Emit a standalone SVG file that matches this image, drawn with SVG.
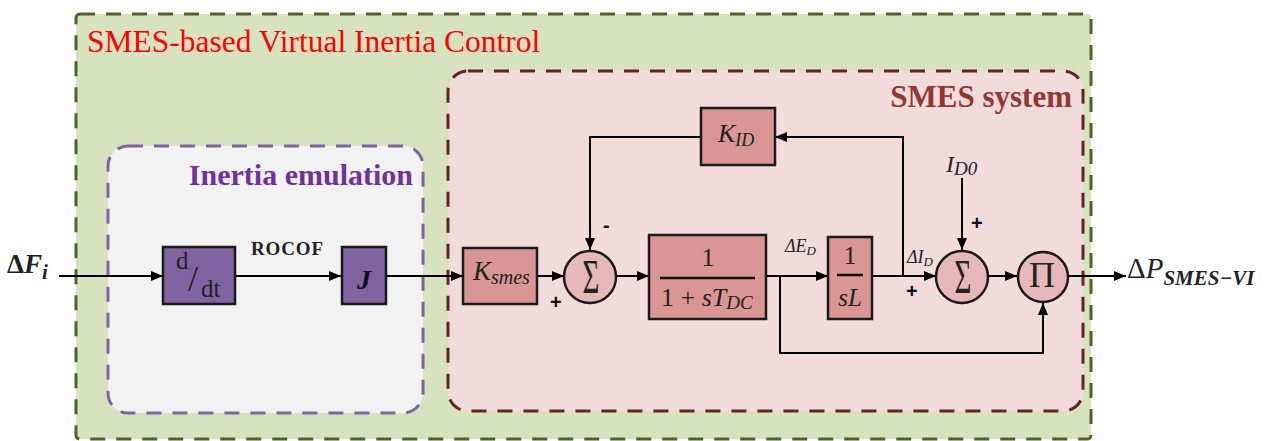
<svg xmlns="http://www.w3.org/2000/svg" width="1266" height="441" viewBox="0 0 1266 441">
<defs>
<style>
.blk{fill:#d99694;stroke:#1a1a1a;stroke-width:2.5}
.pblk{fill:#8064a2;stroke:#1a1a1a;stroke-width:2.5}
.circ{fill:#e6b9b8;stroke:#1a1a1a;stroke-width:2.5}
.ln{fill:none;stroke:#000;stroke-width:2}
.m{font-family:"Liberation Serif",serif;font-style:italic;fill:#222}
.r{font-family:"Liberation Serif",serif;fill:#222}
.sign{font-family:"Liberation Sans",sans-serif;font-weight:bold;font-size:20px;fill:#111}
</style>
<marker id="ah" viewBox="0 0 12 10" refX="12" refY="5" markerWidth="12" markerHeight="10" markerUnits="userSpaceOnUse" orient="auto">
<path d="M0,0 L12,5 L0,10 z" fill="#000"/>
</marker>
</defs>
<rect width="1266" height="441" fill="#fff"/>

<g id="outer">
<rect x="76" y="14" width="1015" height="425" rx="4" fill="#d7e3bf" stroke="#4f6228" stroke-width="3" stroke-dasharray="15,11"/>
<text x="87" y="52" font-family="Liberation Serif,serif" font-size="31.5" fill="#ff0000">SMES-based Virtual Inertia Control</text>
</g>
<g id="inertia-emulation">
<rect x="108" y="146" width="315" height="267" rx="20" fill="#f2f2f2" stroke="#8064a2" stroke-width="3" stroke-dasharray="15,11"/>
<text x="413" y="185" text-anchor="end" font-family="Liberation Serif,serif" font-weight="bold" font-size="30" fill="#7030a0">Inertia emulation</text>
</g>
<g id="smes-system">
<rect x="448" y="71" width="635" height="340" rx="20" fill="#f2dcdb" stroke="#632523" stroke-width="3" stroke-dasharray="15,11"/>
<text x="1072" y="107" text-anchor="end" font-family="Liberation Serif,serif" font-weight="bold" font-size="31" fill="#943634">SMES system</text>
</g>

<g id="connectors">
<line class="ln" x1="59" y1="276" x2="163" y2="276" marker-end="url(#ah)"/>
<line class="ln" x1="235" y1="276" x2="341" y2="276" marker-end="url(#ah)"/>
<line class="ln" x1="386" y1="276" x2="463" y2="276" marker-end="url(#ah)"/>
<line class="ln" x1="537" y1="276" x2="564" y2="276" marker-end="url(#ah)"/>
<line class="ln" x1="616" y1="276" x2="649" y2="276" marker-end="url(#ah)"/>
<line class="ln" x1="766" y1="276" x2="828" y2="276" marker-end="url(#ah)"/>
<line class="ln" x1="872" y1="276" x2="936" y2="276" marker-end="url(#ah)"/>
<polyline class="ln" points="903,276 903,137 775,137" marker-end="url(#ah)"/>
<polyline class="ln" points="701,137 590,137 590,250" marker-end="url(#ah)"/>
<line class="ln" x1="962" y1="178" x2="962" y2="250" marker-end="url(#ah)"/>
<line class="ln" x1="988" y1="276" x2="1017" y2="276" marker-end="url(#ah)"/>
<polyline class="ln" points="780,276 780,353 1043,353 1043,303" marker-end="url(#ah)"/>
<line class="ln" x1="1069" y1="276" x2="1126" y2="276" marker-end="url(#ah)"/>
</g>

<g id="input">
<text x="7" y="273" font-family="Liberation Serif,serif" font-weight="bold" font-size="27" fill="#222">Δ<tspan font-style="italic">F</tspan><tspan font-style="italic" font-size="21" dy="6">i</tspan></text>
</g>
<g id="ddt">
<rect class="pblk" x="163" y="247" width="72" height="57"/>
<text class="r" x="176" y="269" font-size="25">d</text>
<text class="r" x="188" y="291" font-size="36">/</text>
<text class="r" x="201" y="297" font-size="25">dt</text>
</g>
<text id="rocof" x="251" y="255" font-family="Liberation Serif,serif" font-weight="bold" font-size="19" fill="#222" textLength="72">ROCOF</text>
<g id="J">
<rect class="pblk" x="342" y="247" width="44" height="57"/>
<text x="364" y="289" text-anchor="middle" font-family="Liberation Serif,serif" font-weight="bold" font-style="italic" font-size="28" fill="#111">J</text>
</g>
<g id="Ksmes">
<rect class="blk" x="463" y="248" width="74" height="56"/>
<text class="m" x="473" y="280" font-size="27">K<tspan font-size="20" dy="4">smes</tspan></text>
</g>
<g id="sum1">
<circle class="circ" cx="590" cy="277" r="26"/>
<text class="r" transform="translate(591,293) scale(1,1.7)" text-anchor="middle" font-size="29">Σ</text>
</g>
<text class="sign" x="603" y="232">-</text>
<text class="sign" x="550" y="309">+</text>
<g id="KID">
<rect class="blk" x="701" y="108" width="74" height="57"/>
<text class="m" x="718" y="142" font-size="26">K<tspan font-size="18" dy="4">ID</tspan></text>
</g>
<g id="TDC">
<rect class="blk" x="649" y="235" width="117" height="84"/>
<text class="r" x="708" y="266" text-anchor="middle" font-size="26">1</text>
<line x1="660" y1="278" x2="755" y2="278" stroke="#111" stroke-width="2.5"/>
<text x="661" y="306" font-family="Liberation Serif,serif" font-size="26" fill="#222">1 + <tspan font-style="italic">sT</tspan><tspan font-style="italic" font-size="19" dy="3">DC</tspan></text>
</g>
<text id="dED" class="m" x="785" y="252" font-size="18" fill="#555">ΔE<tspan font-size="13" dy="3">D</tspan></text>
<g id="sL">
<rect class="blk" x="828" y="237" width="44" height="82"/>
<text class="r" x="850" y="264" text-anchor="middle" font-size="25">1</text>
<line x1="837" y1="275" x2="863" y2="275" stroke="#111" stroke-width="2.5"/>
<text class="m" x="850" y="306" text-anchor="middle" font-size="25">sL</text>
</g>
<text id="dID" class="m" x="907" y="263" font-size="18" fill="#555">ΔI<tspan font-size="13" dy="3">D</tspan></text>
<text class="sign" x="906" y="298">+</text>
<text id="ID0" class="m" x="946" y="172" font-size="24">I<tspan font-size="19" dy="3">D0</tspan></text>
<text class="sign" x="971" y="230">+</text>
<g id="sum2">
<circle class="circ" cx="962" cy="277" r="26"/>
<text class="r" transform="translate(963,293) scale(1,1.7)" text-anchor="middle" font-size="29">Σ</text>
</g>
<g id="prod">
<circle class="circ" cx="1043" cy="277" r="25"/>
<text class="r" x="1042" y="287" text-anchor="middle" font-size="36">Π</text>
</g>
<g id="output">
<text x="1127" y="278" font-family="Liberation Serif,serif" font-size="29" fill="#222">Δ<tspan font-style="italic">P</tspan><tspan font-weight="bold" font-style="italic" font-size="21" dy="7">SMES−VI</tspan></text>
</g>
</svg>
